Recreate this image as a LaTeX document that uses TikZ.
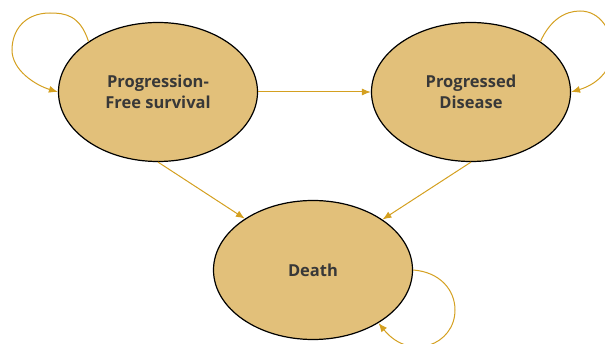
\documentclass[tikz,border=0pt]{standalone}
\usepackage{fontspec}
\setmainfont{Open Sans}
\usetikzlibrary{arrows.meta}
\usetikzlibrary{shapes.geometric}
\definecolor{statefill}{HTML}{E2C07A}
\definecolor{linkcol}{HTML}{D4A020}
\definecolor{textcol}{HTML}{383838}
\tikzset{arrow/.style={->, >={Latex[length=9pt,width=7pt]}, draw=linkcol, line width=1pt}}
\tikzset{state/.style={ellipse, draw=black, line width=1.2pt, fill=statefill,
  minimum width=199pt, minimum height=139pt, inner sep=0pt, align=center,
  text=textcol, font=\fontsize{16.5}{21}\selectfont\bfseries}}

\begin{document}
\begin{tikzpicture}[x=1pt, y=-1pt]
    \useasboundingbox (0,0) rectangle (605,344);
    \clip (0,0) rectangle (605,344);
    \node[state] (pfs) at (158,92) {Progression-\\Free survival};
    \node[state] (pd) at (471,92) {Progressed\\Disease};
    \node[state] (d) at (313,270) {Death};
    \draw[arrow] (pfs.east) -- (pd.west);
    \draw[arrow] (pfs.south) -- (d.143);
    \draw[arrow] (pd.south) -- (d.36);
    \draw[arrow] (pfs.144) .. controls (80,15) and (65,13) .. (50,13)
      .. controls (25,13) and (12,30) .. (12,50)
      .. controls (12,70) and (35,85) .. (pfs.west);
    \draw[arrow] (pd.36) .. controls (550,20) and (565,11) .. (580,11)
      .. controls (600,11) and (612,30) .. (612,50)
      .. controls (612,72) and (595,85) .. (pd.east);
    \draw[arrow] (d.east) .. controls (440,272) and (455,290) .. (455,310)
      .. controls (455,345) and (410,362) .. (d.-39);
  \end{tikzpicture}
\end{document}
